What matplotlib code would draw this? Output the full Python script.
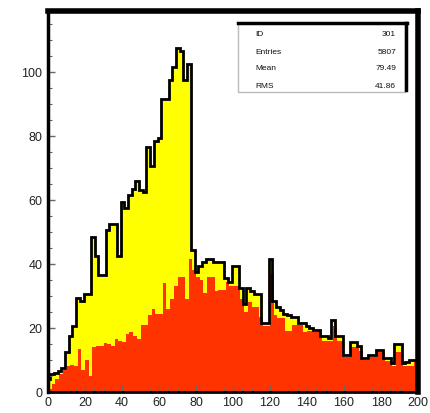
import numpy as np
import matplotlib
matplotlib.use("Agg")
import matplotlib.pyplot as plt
from matplotlib import transforms
from matplotlib.ticker import MultipleLocator

# 100 bins of width 2 between 0 and 200
bin_edges = np.linspace(0, 200, 101)

# all entries (yellow, black outline)
total = [3.5, 5, 5.5, 6, 7, 12, 17, 20, 29, 28,
         30, 30, 48, 42, 36, 36, 50, 52, 52, 42,
         59, 57, 61, 63, 65.5, 62.5, 62, 76, 70, 78,
         79, 91, 91, 97, 101, 107, 106, 97, 102, 44,
         37, 39, 40, 41, 41, 40, 40, 40, 35, 34,
         39, 39, 32, 27, 32, 31, 30, 30, 21, 21,
         41, 28, 26, 25, 24, 23.5, 23, 23, 21, 21,
         20, 19.5, 19, 19, 17, 17, 16.5, 22, 17, 17,
         11, 11, 15, 15, 14, 10, 10, 11, 11, 12.5,
         12.5, 10, 10, 8.7, 14.4, 14.4, 8.7, 9, 9.4, 9.4]

# selected subset (red)
selected = [1, 2.5, 4, 5.5, 7, 8, 8.5, 8, 13.5, 7,
            10, 5, 14, 14.5, 14.5, 15.3, 15, 14.5, 16.5, 16,
            15.5, 18, 18.7, 17.5, 16.5, 21, 21, 24, 26, 24.5,
            24.5, 34, 26, 29, 33, 36, 36, 29, 41.5, 38,
            36, 35, 31, 36, 36, 31.5, 32, 32, 34.5, 33,
            33, 33, 29, 25, 28, 26.5, 26.5, 23.5, 20.6, 20.6,
            37, 24, 23, 23, 19, 19, 21, 21, 21, 18.7,
            19, 19, 18.7, 18.7, 16, 16, 16, 20.6, 16, 16,
            11, 11, 14, 14, 12.8, 10, 10, 11, 11, 12.5,
            12.5, 9.7, 9.7, 8, 12.5, 12.5, 8, 8, 8, 9.4]

stats_names = ["ID", "Entries", "Mean", "RMS"]
stats_values = ["301", "5807", "79.49", "41.86"]

plt.rcParams['font.family'] = ['Liberation Sans', 'DejaVu Sans']

W, H = 430, 414
fig = plt.figure(figsize=(W / 100, H / 100), dpi=100)
ax = fig.add_axes([48 / W, 21 / H, 370 / W, 381 / H])

ax.stairs(total, bin_edges, fill=True, color='#ffff00', lw=0)
ax.stairs(selected, bin_edges, fill=True, color='#ff3300', lw=0)
# outline drawn slightly up-left, like the printed shadow
shadow = transforms.offset_copy(ax.transData, fig=fig, x=-1.5, y=1.5, units='dots')
ax.stairs(total, bin_edges, color='black', lw=2.0, transform=shadow)

ax.set_xlim(0, 200)
ax.set_ylim(0, 119)
ax.xaxis.set_major_locator(MultipleLocator(20))
ax.xaxis.set_minor_locator(MultipleLocator(5))
ax.yaxis.set_major_locator(MultipleLocator(20))
ax.yaxis.set_minor_locator(MultipleLocator(5))
ax.tick_params(which='both', direction='in', color='#666666', labelsize=9,
               labelcolor='#222222', top=False, right=False)
ax.tick_params(which='major', length=5, width=1)
ax.tick_params(which='minor', length=3, width=0.8)
ax.tick_params(axis='x', pad=3)
ax.tick_params(axis='y', pad=4)

for side, lw in [('top', 4), ('right', 4), ('left', 2.5), ('bottom', 2)]:
    ax.spines[side].set_linewidth(lw)
    ax.spines[side].set_color('black')

# statistics box
bx0, by0, bx1, by1 = 238, 24, 405, 93
box = plt.Rectangle((bx0 / W, 1 - by1 / H), (bx1 - bx0) / W, (by1 - by0) / H,
                    transform=fig.transFigure, facecolor='white', edgecolor='#bbbbbb',
                    lw=1, zorder=5)
fig.patches.append(box)
fig.add_artist(plt.Line2D([bx0 / W, (bx1 + 2) / W], [1 - by0 / H, 1 - by0 / H],
                          transform=fig.transFigure, color='black', lw=2.5, zorder=6))
fig.add_artist(plt.Line2D([(bx1 + 1) / W, (bx1 + 1) / W], [1 - by0 / H, 1 - (by1 - 2) / H],
                          transform=fig.transFigure, color='black', lw=2.5, zorder=6))
for i, (name, val) in enumerate(zip(stats_names, stats_values)):
    yy = 1 - (35 + 17 * i) / H
    fig.text(255 / W, yy, name, fontsize=6, va='center', ha='left', color='#111111', zorder=7)
    fig.text(396 / W, yy, val, fontsize=6, va='center', ha='right', color='#111111', zorder=7)

fig.savefig('out.png', dpi=100)
